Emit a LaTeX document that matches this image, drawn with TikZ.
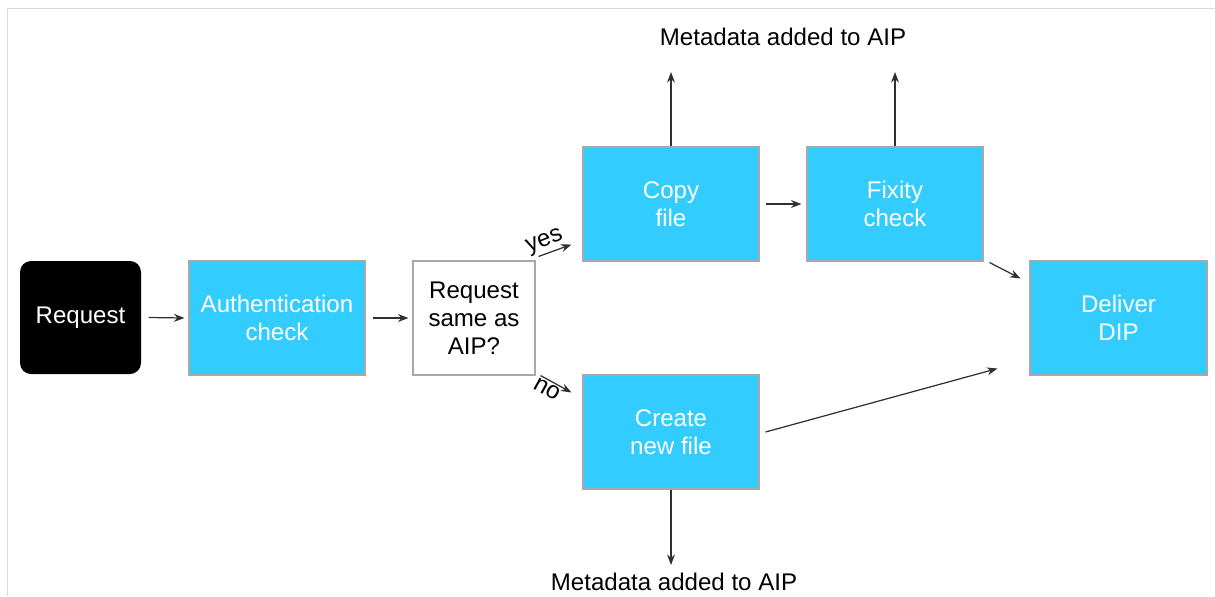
\documentclass[tikz,border=0pt]{standalone}
\usepackage{fontspec}
\setmainfont{Liberation Sans}
\usetikzlibrary{arrows.meta,calc}
\definecolor{boxcyan}{HTML}{33CCFF}
\definecolor{boxedge}{HTML}{A8A8A8}
\definecolor{framegray}{HTML}{D9D9D9}
\definecolor{arrowgray}{HTML}{303030}
\tikzset{
	flowbox/.style={draw=boxedge, line width=0.6pt, fill=boxcyan, text=white, align=center,
		minimum width=176*0.02cm, minimum height=114*0.02cm, inner sep=0pt,
		font=\fontsize{13.7}{15.9}\selectfont},
	flowarrow/.style={draw=arrowgray, line width=0.7pt, -{Stealth[length=6pt,width=4.5pt]}},
	metatext/.style={font=\fontsize{13.7}{15.9}\selectfont, inner sep=0pt}
}

\begin{document}
\begin{tikzpicture}[x=0.02cm, y=-0.02cm]
	\useasboundingbox (0,0) rectangle (1215,596);
	\draw [framegray, line width=1.1pt] (7.5,596) -- (7.5,8.5) -- (1215,8.5);
	\node [flowbox, draw=none, fill=black, rounded corners=0.22cm, minimum width=121*0.02cm, minimum height=113*0.02cm] (request) at (80.5,317.5) {Request};
	\node [flowbox] (auth) at (277,318) {Authentication\\check};
	\node [flowbox, fill=white, text=black, minimum width=122*0.02cm] (same) at (474,318) {Request\\same as\\AIP?};
	\node [flowbox] (copy) at (671,204) {Copy\\file};
	\node [flowbox] (fixity) at (895,204) {Fixity\\check};
	\node [flowbox] (create) at (671,432) {Create\\new file};
	\node [flowbox, minimum width=177*0.02cm] (deliver) at (1118.5,318) {Deliver\\DIP};
	\node [metatext] (metatop) at (783,37) {Metadata added to AIP};
	\node [metatext] (metabot) at (674,582) {Metadata added to AIP};
	\node [metatext, rotate=21] (yes) at (545,242) {yes};
	\node [metatext, rotate=-29] (no) at (547,389) {no};
	\coordinate (copyout) at (671,72);
	\coordinate (fixityout) at (895,72);
	\coordinate (createout) at (671,565);
	\draw [flowarrow] ($(request.east)+(7,0)$) -- ($(auth.west)+(-4,0)$);
	\draw [flowarrow] ($(auth.east)+(7,0)$) -- ($(same.west)+(-4,0)$);
	\draw [flowarrow] ($(same.north east)+(3,-4)$) -- ($(copy.south west)+(-11,-17)$);
	\draw [flowarrow] ($(same.south east)+(5,0)$) -- ($(create.north west)+(-11,18)$);
	\draw [flowarrow] ($(copy.east)+(6,0)$) -- ($(fixity.west)+(-5,0)$);
	\draw [flowarrow] (copy.north) -- (copyout);
	\draw [flowarrow] (fixity.north) -- (fixityout);
	\draw [flowarrow] (create.south) -- (createout);
	\draw [flowarrow] ($(fixity.south east)+(6,1)$) -- ($(deliver.north west)+(-9,18)$);
	\draw [flowarrow] ($(create.east)+(6,0)$) -- ($(deliver.south west)+(-32,-7)$);
\end{tikzpicture}
\end{document}
